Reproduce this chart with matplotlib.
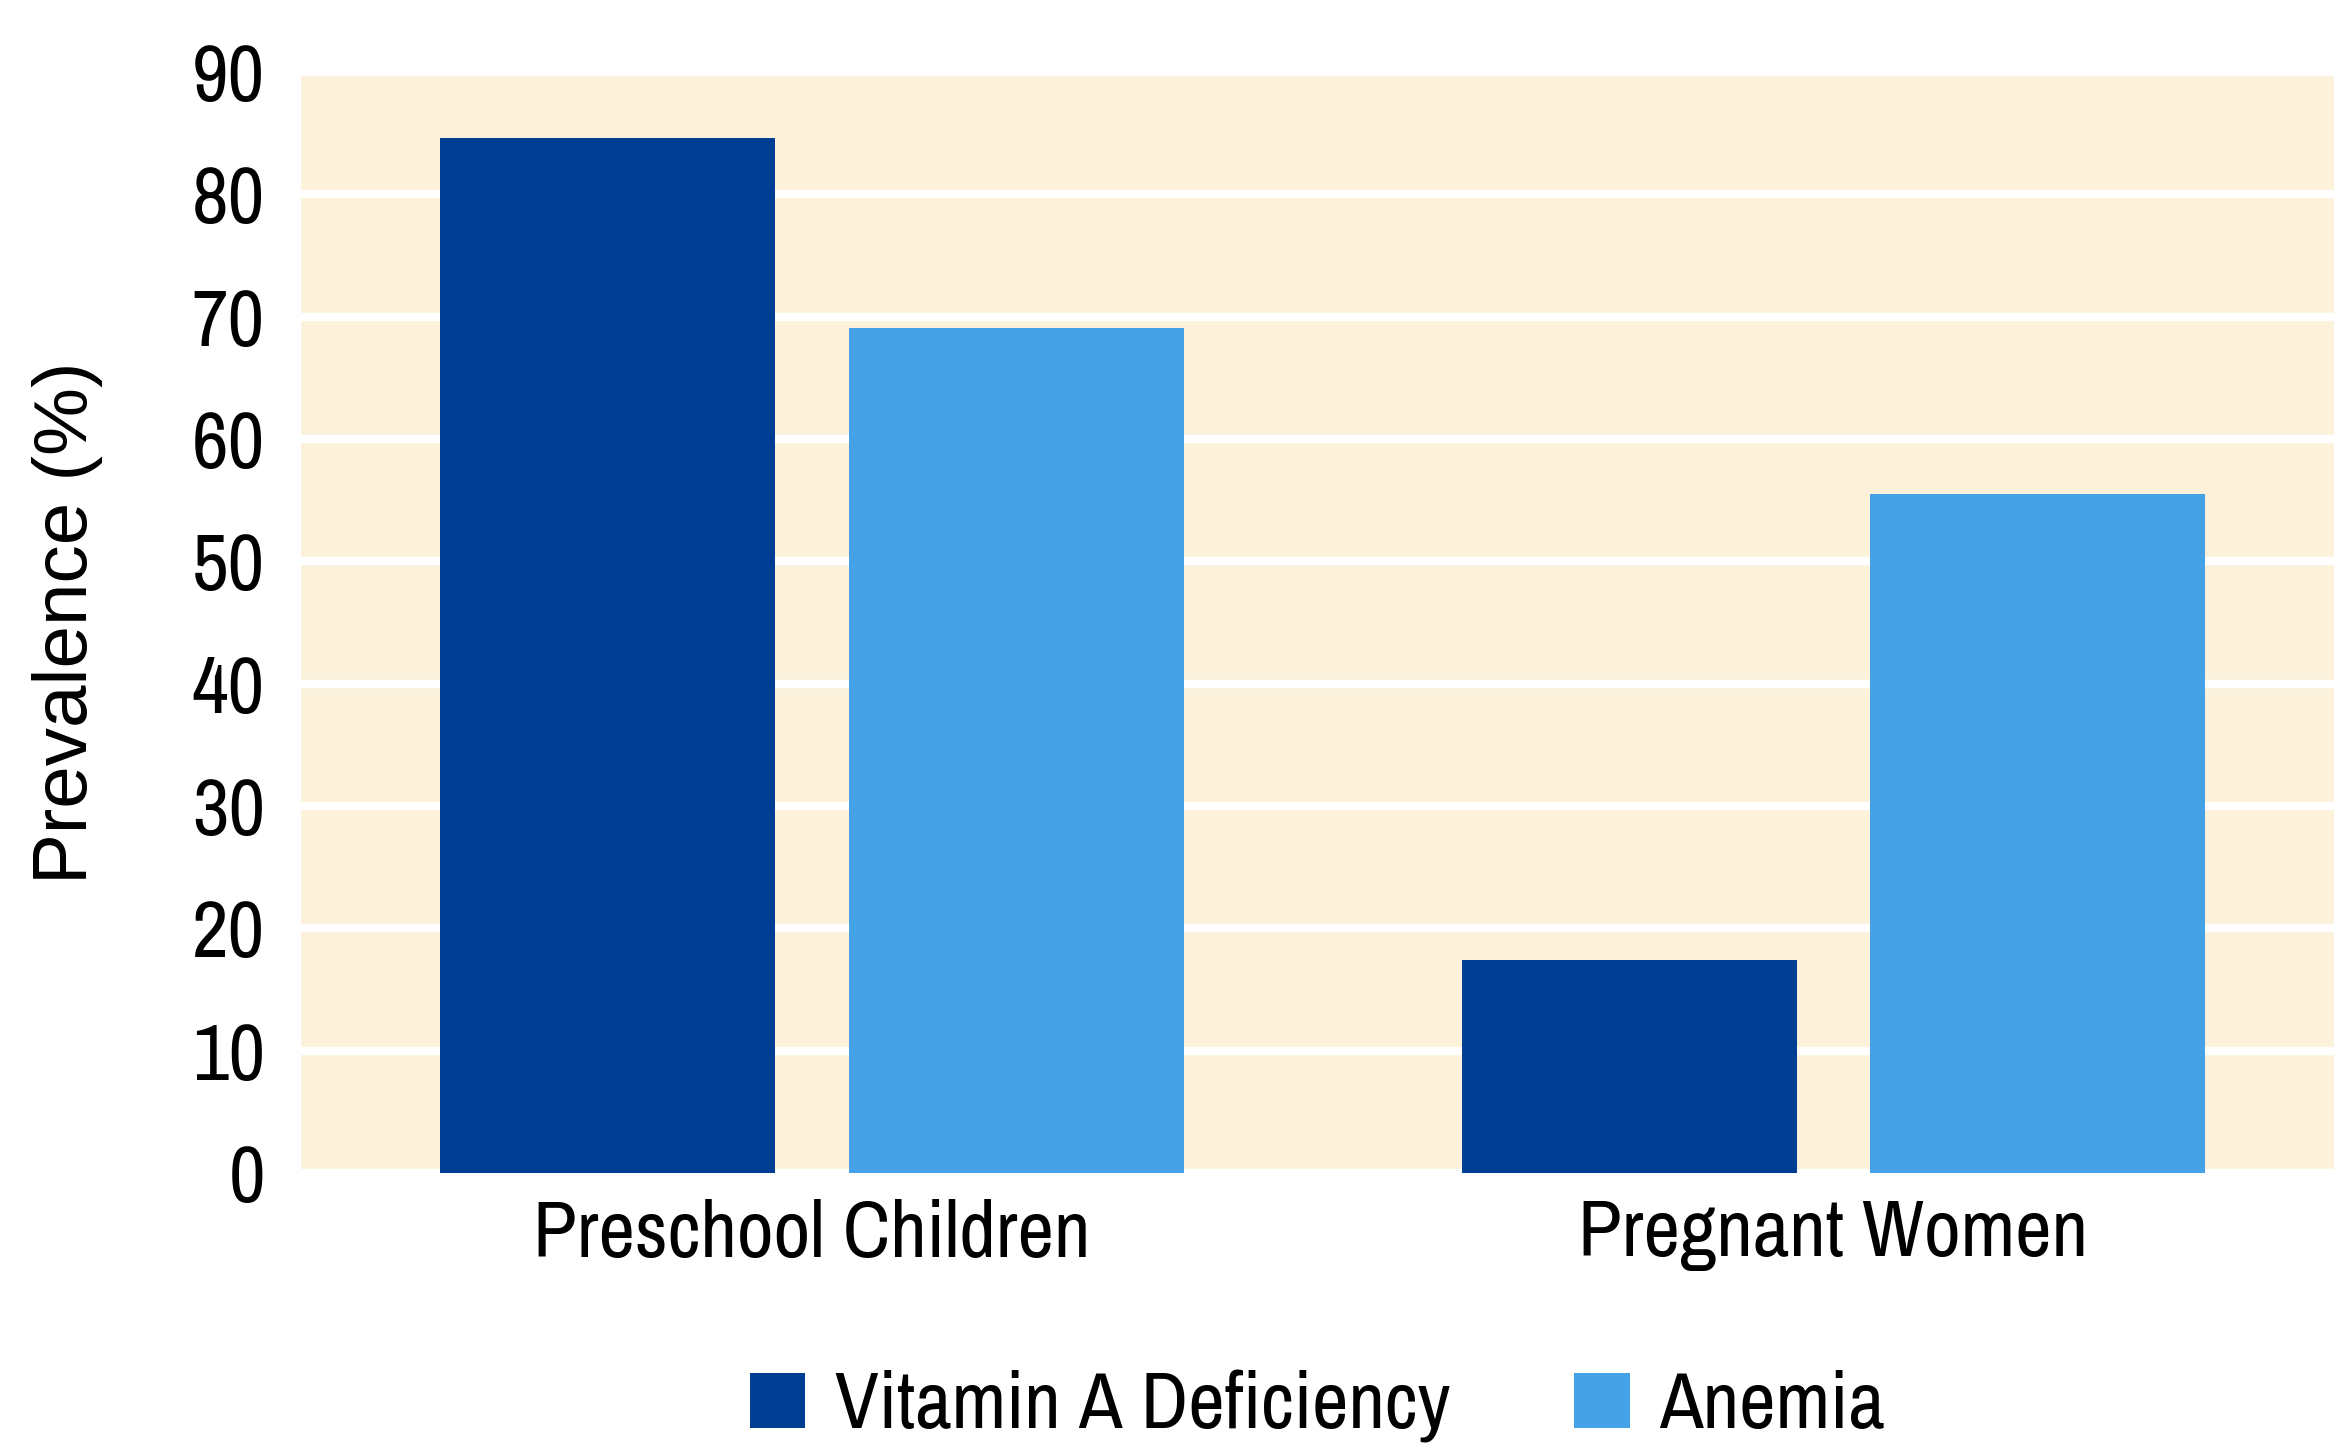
import matplotlib
matplotlib.use("Agg")
import numpy as np
import matplotlib.pyplot as plt
import logging

logging.getLogger("matplotlib.font_manager").setLevel(logging.ERROR)

# data
groups = ["Preschool Children", "Pregnant Women"]
vitamin_a = [84.6, 17.4]
anemia = [69.1, 55.5]
series_names = ["Vitamin A Deficiency", "Anemia"]
yticks = [0, 10, 20, 30, 40, 50, 60, 70, 80, 90]

dark_blue = "#003E93"
light_blue = "#46A2E6"
cream = "#FCF1DB"

narrow = ["Liberation Sans Narrow", "Arial Narrow", "Archivo Narrow",
          "Roboto Condensed", "DejaVu Sans"]
fs = 57.6

fig = plt.figure(figsize=(23.34, 14.49), dpi=100)
ax = fig.add_axes([301 / 2334, 276 / 1449, (2334 - 301) / 2334, 1101 / 1449])
ax.set_facecolor(cream)

x = np.arange(len(groups))
w = 0.328
ax.bar(x - 0.2, vitamin_a, w, color=dark_blue, label=series_names[0], zorder=3)
ax.bar(x + 0.2, anemia, w, color=light_blue, label=series_names[1], zorder=3)

ax.set_xlim(-0.5, 1.49)
ax.set_ylim(0, 90)
ax.set_yticks(yticks)
ax.set_yticklabels([str(t) for t in yticks], family=narrow, fontsize=fs)
ax.set_xticks(x)
ax.set_xticklabels(groups, family=narrow, fontsize=fs)
ax.tick_params(axis="y", length=0, pad=26)
ax.tick_params(axis="x", length=0, pad=19)

ax.set_axisbelow(True)
ax.yaxis.grid(True, color="white", linewidth=6)
ax.xaxis.grid(False)
for s in ax.spines.values():
    s.set_visible(False)

ax.set_ylabel("Prevalence (%)", family=["Liberation Sans", "DejaVu Sans"],
              fontsize=55, labelpad=64)

ax.legend(loc="center", bbox_to_anchor=(0.5, -0.212), ncol=2,
          frameon=False, prop={"family": narrow, "size": fs},
          handlelength=0.69, handleheight=0.69, handletextpad=0.37,
          columnspacing=1.55, borderpad=0)

fig.savefig("out.png", dpi=100)
